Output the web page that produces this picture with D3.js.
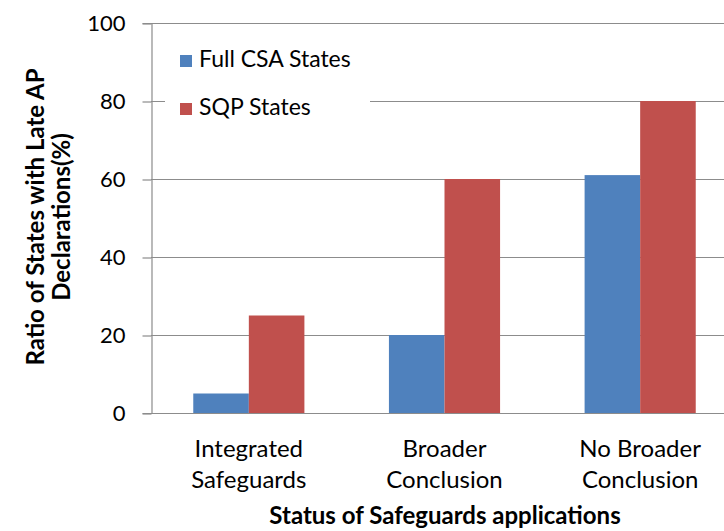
<!DOCTYPE html>
<html lang="en">
<head>
  <meta charset="UTF-8">
  <title>Late AP Declarations</title>
  <script src="https://d3js.org/d3.v7.min.js"></script>
  <style>
    body { margin: 0; background: #fff; }
    text { font-family: Lato, "Open Sans", sans-serif; fill: #000; }
  </style>
</head>
<body>
  <script>
    // Chart data
    const categories = [["Integrated", "Safeguards"], ["Broader", "Conclusion"], ["No Broader", "Conclusion"]];
    const seriesNames = ["Full CSA States", "SQP States"];
    const fullCsa = [5, 20, 61];
    const sqp = [25, 60, 80];
    const yTicks = [0, 20, 40, 60, 80, 100];
    const colors = ["#4F81BD", "#C0504D"];

    const width = 724;
    const height = 531;
    const margin = { left: 151, top: 23, right: -14, bottom: 118 };

    const svg = d3.select("body")
      .append("svg")
      .attr("width", width)
      .attr("height", height);

    const x = d3.scaleBand()
      .domain(d3.range(categories.length))
      .range([margin.left, width - margin.right])
      .paddingInner(0.432)
      .paddingOuter(0.216);

    const sub = d3.scaleBand()
      .domain([0, 1])
      .range([0, x.bandwidth()]);

    const y = d3.scaleLinear()
      .domain([0, 100])
      .range([height - margin.bottom, margin.top]);

    // gridlines
    svg.append("g")
      .selectAll("line")
      .data(yTicks.slice(1))
      .enter()
      .append("line")
      .attr("x1", margin.left)
      .attr("x2", width)
      .attr("y1", d => y(d) + 0.5)
      .attr("y2", d => y(d) + 0.5)
      .attr("stroke", "#8c8c8c")
      .attr("stroke-width", 1.2);

    // legend box (white, hides gridlines behind it)
    const legend = svg.append("g");
    legend.append("rect")
      .attr("x", 165)
      .attr("y", 30)
      .attr("width", 205)
      .attr("height", 100)
      .attr("fill", "#fff");
    seriesNames.forEach((name, i) => {
      const base = 67 + i * 48;
      legend.append("rect")
        .attr("x", 180)
        .attr("y", base - 12)
        .attr("width", 12)
        .attr("height", 12)
        .attr("fill", colors[i]);
      legend.append("text")
        .attr("x", 199)
        .attr("y", base)
        .attr("font-size", 23)
        .text(name);
    });

    // bars
    const series = [fullCsa, sqp];
    series.forEach((vals, s) => {
      svg.append("g")
        .selectAll("rect")
        .data(vals)
        .enter()
        .append("rect")
        .attr("x", (d, i) => x(i) + sub(s))
        .attr("y", d => y(d))
        .attr("width", sub.bandwidth())
        .attr("height", d => y(0) - y(d))
        .attr("fill", colors[s]);
    });

    // y axis
    const yAxis = svg.append("g")
      .attr("transform", `translate(${margin.left + 0.5},0)`)
      .call(d3.axisLeft(y).tickValues(yTicks).tickSize(9).tickPadding(17));
    yAxis.select(".domain").attr("stroke", "#8c8c8c").attr("stroke-width", 1.2);
    yAxis.selectAll(".tick line").attr("stroke", "#8c8c8c").attr("stroke-width", 1.2)
      .attr("transform", "translate(0,0.5)");
    yAxis.selectAll(".tick text").attr("font-size", 22).attr("font-family", "Lato, sans-serif").attr("fill", "#000");

    // baseline
    svg.append("line")
      .attr("x1", margin.left)
      .attr("x2", width)
      .attr("y1", y(0) + 0.5)
      .attr("y2", y(0) + 0.5)
      .attr("stroke", "#8c8c8c")
      .attr("stroke-width", 1.2);

    // category labels
    const xl = svg.append("g")
      .selectAll("text")
      .data(categories)
      .enter()
      .append("text")
      .attr("text-anchor", "middle")
      .attr("font-size", 24)
      .attr("x", (d, i) => x(i) + x.bandwidth() / 2)
      .attr("y", 457);
    xl.append("tspan").attr("x", (d, i) => x(i) + x.bandwidth() / 2).text(d => d[0]);
    xl.append("tspan").attr("x", (d, i) => x(i) + x.bandwidth() / 2).attr("dy", 31).text(d => d[1]);

    // axis titles
    svg.append("text")
      .attr("x", 445)
      .attr("y", 524)
      .attr("text-anchor", "middle")
      .attr("font-size", 24)
      .attr("font-weight", "bold")
      .text("Status of Safeguards applications");

    const yt = svg.append("text")
      .attr("transform", "translate(44,217) rotate(-90)")
      .attr("text-anchor", "middle")
      .attr("font-size", 24)
      .attr("font-weight", "bold");
    yt.append("tspan").attr("x", 0).attr("y", 0).text("Ratio of States with Late AP");
    yt.append("tspan").attr("x", 0).attr("dy", 26).text("Declarations(%)");
  </script>
</body>
</html>
